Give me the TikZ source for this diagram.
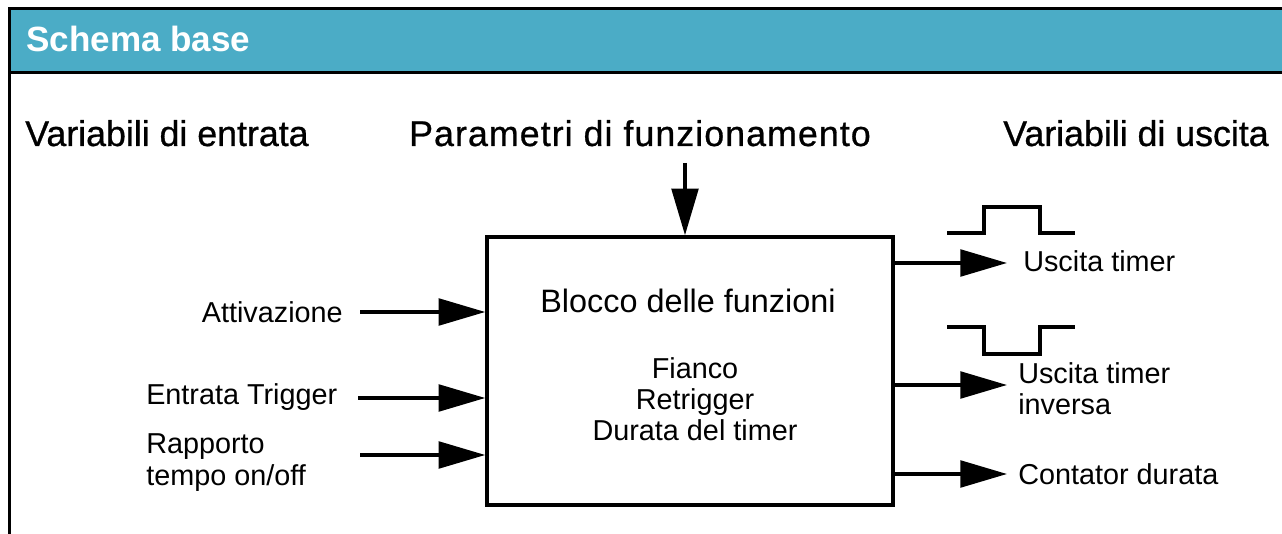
\documentclass[tikz,border=0pt]{standalone}
\usepackage{fontspec}
\setmainfont{Liberation Sans}
\usetikzlibrary{arrows.meta}
\definecolor{testata}{HTML}{4BACC6}

\begin{document}
\begin{tikzpicture}[x=0.75pt, y=-0.75pt,
    sig/.style={line width=2.6pt, -{Triangle[length=35pt, width=20pt]}},
    wave/.style={line width=2.6pt},
    lbl/.style={inner sep=0pt, font=\fontsize{21.6pt}{23.3pt}\selectfont},
    titolo/.style={inner sep=0pt, font=\fontsize{26.8pt}{30pt}\selectfont\addfontfeature{FakeBold=0.8}}]
    \useasboundingbox (0,0) rectangle (1282,534);

    % Testata con cornice
    \fill[testata] (9,9) rectangle (1282,73);
    \draw[line width=2.25pt] (9,534) -- (9,9) -- (1282,9);
    \draw[line width=2.25pt] (9,73) -- (1282,73);
    \node[inner sep=0pt, anchor=base west, text=white,
          font=\bfseries\fontsize{26.3pt}{30pt}\selectfont] (head) at (26,52) {Schema base};

    % Titoli delle colonne
    \node[titolo, anchor=base west] (hIn)  at (25,146)   {Variabili di entrata};
    \node[titolo, anchor=base]      (hPar) at (640,146)  {\addfontfeature{LetterSpace=3}Parametri di funzionamento};
    \node[titolo, anchor=base west] (hOut) at (1003,146) {Variabili di uscita};

    % Blocco centrale
    \node[draw, line width=2.6pt, minimum width=304.5pt, minimum height=201pt,
          inner sep=0pt] (box) at (690,371) {};
    \node[lbl, anchor=base, font=\fontsize{24.3pt}{28pt}\selectfont] (blocco) at (688,313) {Blocco delle funzioni};
    % (base = linea di base dell'ultima riga)
    \node[lbl, anchor=base, align=center] (param) at (695,441) {Fianco\\Retrigger\\Durata del timer};

    % Parametri (dall'alto)
    \coordinate (parIn) at (685,163);
    \draw[sig] (parIn) -- (parIn |- box.north);

    % Variabili di entrata
    \node[lbl, anchor=base east] (attiv) at (343,323) {Attivazione};
    \node[lbl, anchor=base west] (trig)  at (146,405) {Entrata Trigger};
    \node[lbl, anchor=base west, align=left] (rapp) at (146,485) {Rapporto\\tempo on/off};

    \coordinate (inA) at (360,312);
    \coordinate (inB) at (358,398);
    \coordinate (inC) at (360,455);
    \draw[sig] (inA) -- (inA -| box.west);
    \draw[sig] (inB) -- (inB -| box.west);
    \draw[sig] (inC) -- (inC -| box.west);

    % Variabili di uscita
    \coordinate (outA) at (1007,263);
    \coordinate (outB) at (1007,385);
    \coordinate (outC) at (1007,474);
    \draw[sig] (outA -| box.east) -- (outA);
    \draw[sig] (outB -| box.east) -- (outB);
    \draw[sig] (outC -| box.east) -- (outC);

    \node[lbl, anchor=base west] (usc) at (1023,272) {Uscita timer};
    \node[lbl, anchor=base west, align=left] (uscInv) at (1018,415) {Uscita timer\\inversa};
    \node[lbl, anchor=base west] (cont) at (1018,484) {Contator durata};

    % Forme d'onda (impulso e impulso inverso)
    \draw[wave] (947,233) -| (984,207) -| (1040,233) -- (1075,233);
    \draw[wave] (947,327) -| (984,354) -| (1040,327) -- (1075,327);
\end{tikzpicture}
\end{document}
